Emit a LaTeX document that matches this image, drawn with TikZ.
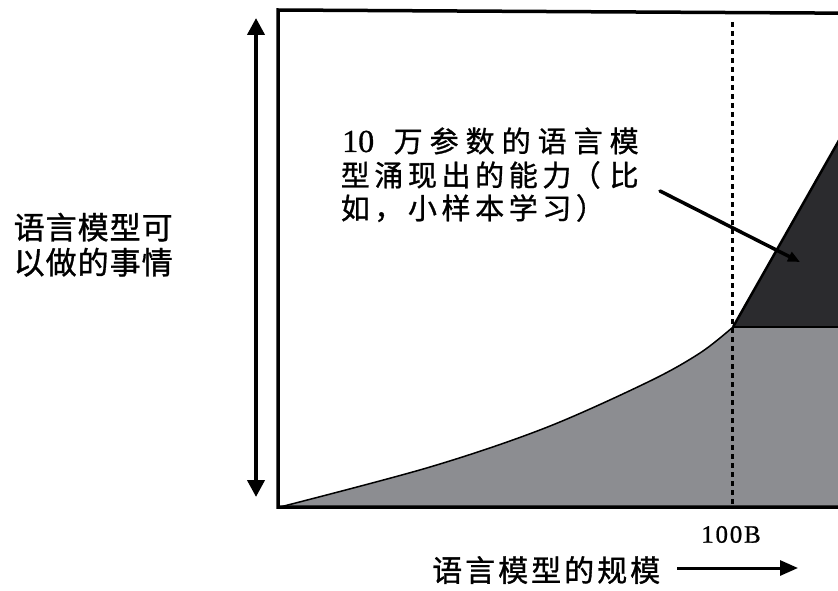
\documentclass[tikz,border=0pt]{standalone}
\usepackage{fontspec}
\usetikzlibrary{arrows.meta}
\newfontfamily\cjk[FakeBold=1]{Noto Sans CJK SC}
\newfontfamily\serifnum[FakeBold=1]{Liberation Serif}
\newfontfamily\serifwide[LetterSpace=7,FakeBold=0.8]{Liberation Serif}
\definecolor{lowgray}{HTML}{8C8D91}
\definecolor{highdark}{HTML}{2B2B2E}
\makeatletter
\newcommand\spreadcells[2]{\@tfor\next:=#2\do{\makebox[#1][c]{\next}}}
\makeatother
\begin{document}
\begin{tikzpicture}[x=1pt,y=-1pt,
  frame/.style={line width=3.5pt, line join=miter},
  axisarrow/.style={line width=4pt, {Triangle[width=17pt,length=17pt]}-{Triangle[width=17pt,length=17pt]}},
  scalearrow/.style={line width=3pt, -{Triangle[width=15pt,length=18pt]}},
  dotline/.style={line width=3pt, dash pattern=on 5pt off 4pt},
  pointer/.style={line width=3.5pt, line cap=round, -{Triangle[width=10pt,length=12pt]}},
  cjklabel/.style={inner sep=0pt, anchor=base west, text=black},
]
\useasboundingbox (0,0) rectangle (838,591);
\clip (0,0) rectangle (838,591);
\fill[white] (0,0) rectangle (838,591);

% areas
\fill[lowgray] plot[smooth, tension=0.55] coordinates {(280,507) (430,467) (545,428) (648,382) (700,353) (733,327)} -- (850,327) -- (850,507) -- cycle;
\fill[highdark] (733,327) -- (850,121) -- (850,327) -- cycle;
\draw[line width=1.5pt] plot[smooth, tension=0.55] coordinates {(280,507) (430,467) (545,428) (648,382) (700,353) (733,327)};
\draw[line width=2.5pt] (733,327) -- (850,121);
\draw[line width=1.5pt] (733,327) -- (850,327);

% frame
\draw[frame] (850,13.2) -- (278,10) -- (278,507) -- (850,507);

% 100B dotted line
\coordinate (dtop) at (732,22);
\coordinate (dbot) at (732,507);
\draw[dotline] (dtop) -- (dbot);

% left vertical arrow
\coordinate (ytop) at (256,18);
\coordinate (ybot) at (256,497);
\draw[axisarrow] (ybot) -- (ytop);

% y label
\node[cjklabel, font={\cjk\fontsize{31}{35}\selectfont}] (ylab1) at (13,239) {\spreadcells{32pt}{语言模型可}};
\node[cjklabel, font={\cjk\fontsize{31}{35}\selectfont}] (ylab2) at (13,274) {\spreadcells{32pt}{以做的事情}};

% annotation
\node[cjklabel, font={\cjk\fontsize{29}{33.5}\selectfont}] (ann1) at (338.3,152)
  {\makebox[51.7pt][l]{\hspace{3.7pt}{\serifnum\fontsize{32}{32}\selectfont 10}}\spreadcells{36pt}{万参数的语言模}};
\node[cjklabel, font={\cjk\fontsize{29}{33.5}\selectfont}] (ann2) at (338.3,186)
  {\spreadcells{33.6pt}{型涌现出的能力}\makebox[33.6pt][l]{\hspace{-2pt}（}\makebox[33.6pt][c]{比}};
\node[cjklabel, font={\cjk\fontsize{29}{33.5}\selectfont}] (ann3) at (338.3,219)
  {\spreadcells{33.6pt}{如，小样本学习）}};

% tick label
\node[inner sep=0pt, font={\serifwide\fontsize{25}{27}\selectfont}] (tick) at (731,534.5) {100B};

% x label and arrow
\node[cjklabel, font={\cjk\fontsize{30}{34}\selectfont}] (xlabel) at (430.5,581.5) {\spreadcells{33pt}{语言模型的规模}};
\coordinate (xs) at (677,568);
\coordinate (xe) at (798,568);
\draw[scalearrow] (xs) -- (xe);

% pointer
\coordinate (ps) at (660,191);
\coordinate (pe) at (800,262);
\draw[pointer] (ps) -- (pe);
\end{tikzpicture}
\end{document}
